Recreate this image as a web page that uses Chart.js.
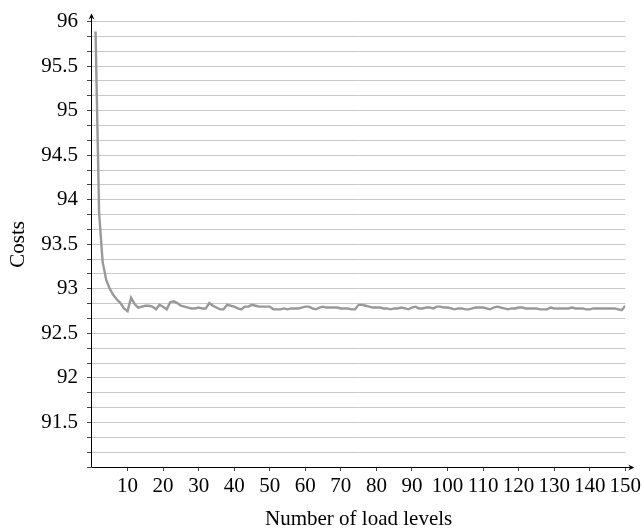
<!DOCTYPE html>
<html>
<head>
<meta charset="utf-8">
<script src="https://cdn.jsdelivr.net/npm/chart.js@4/dist/chart.umd.min.js"></script>
<style>
  html, body { margin: 0; padding: 0; background: #fff; }
  #wrap { width: 644px; height: 532px; }
</style>
</head>
<body>
<div id="wrap"><canvas id="c" width="644" height="532"></canvas></div>
<script>
// Cost per number of load levels (x = 1..150)
const loadLevels = Array.from({ length: 150 }, (_, i) => i + 1);
const costs = [
  95.89, 93.85, 93.30, 93.10, 93.00, 92.93, 92.88, 92.84, 92.78, 92.75,
  92.90, 92.83, 92.79, 92.80, 92.81, 92.81, 92.80, 92.77, 92.82, 92.80,
  92.77, 92.85, 92.86, 92.84, 92.81, 92.80, 92.79, 92.78, 92.78, 92.79,
  92.78, 92.78, 92.84, 92.81, 92.79, 92.77, 92.77, 92.82, 92.81, 92.80,
  92.78, 92.77, 92.80, 92.80, 92.82, 92.81, 92.80, 92.80, 92.80, 92.80,
  92.77, 92.77, 92.77, 92.78, 92.77, 92.78, 92.78, 92.78, 92.79, 92.80,
  92.80, 92.78, 92.77, 92.79, 92.80, 92.79, 92.79, 92.79, 92.79, 92.78,
  92.78, 92.78, 92.77, 92.77, 92.82, 92.82, 92.81, 92.80, 92.79, 92.79,
  92.79, 92.78, 92.78, 92.77, 92.78, 92.78, 92.79, 92.78, 92.77, 92.79,
  92.80, 92.78, 92.78, 92.79, 92.79, 92.78, 92.80, 92.80, 92.79, 92.79,
  92.78, 92.77, 92.78, 92.78, 92.77, 92.77, 92.78, 92.79, 92.79, 92.79,
  92.78, 92.77, 92.79, 92.80, 92.79, 92.78, 92.77, 92.78, 92.78, 92.79,
  92.79, 92.78, 92.78, 92.78, 92.78, 92.77, 92.77, 92.77, 92.79, 92.78,
  92.78, 92.78, 92.78, 92.78, 92.79, 92.78, 92.78, 92.78, 92.77, 92.77,
  92.78, 92.78, 92.78, 92.78, 92.78, 92.78, 92.78, 92.77, 92.76, 92.81
];

// Axis ticks
const xTicks = [10, 20, 30, 40, 50, 60, 70, 80, 90, 100, 110, 120, 130, 140, 150];
const yMin = 91, yMax = 96;
const yTicks = Array.from({ length: 31 }, (_, i) => yMin + i / 6);

const FONT = "'Liberation Serif', 'DejaVu Serif', serif";

// Draws the black axis lines with arrow heads (pgfplots style)
const arrowAxes = {
  id: 'arrowAxes',
  afterDraw(chart) {
    const { ctx, chartArea: a } = chart;
    ctx.save();
    ctx.strokeStyle = '#000';
    ctx.fillStyle = '#000';
    ctx.lineWidth = 1;
    ctx.beginPath();
    ctx.moveTo(a.left, a.bottom + 0.5);
    ctx.lineTo(a.right + 7, a.bottom + 0.5);
    ctx.moveTo(a.left - 0.5, a.bottom);
    ctx.lineTo(a.left - 0.5, a.top - 6);
    ctx.stroke();
    // x arrow
    ctx.beginPath();
    ctx.moveTo(a.right + 9, a.bottom + 0.5);
    ctx.lineTo(a.right + 3, a.bottom - 2.5);
    ctx.lineTo(a.right + 5, a.bottom + 0.5);
    ctx.lineTo(a.right + 3, a.bottom + 3.5);
    ctx.closePath();
    ctx.fill();
    // y arrow
    ctx.beginPath();
    ctx.moveTo(a.left - 0.5, a.top - 8);
    ctx.lineTo(a.left - 3.5, a.top - 2);
    ctx.lineTo(a.left - 0.5, a.top - 4);
    ctx.lineTo(a.left + 2.5, a.top - 2);
    ctx.closePath();
    ctx.fill();
    ctx.restore();
  }
};

const ctx = document.getElementById('c').getContext('2d');
new Chart(ctx, {
  type: 'line',
  data: {
    labels: loadLevels,
    datasets: [{
      data: loadLevels.map((x, i) => ({ x, y: costs[i] })),
      borderColor: '#999999',
      borderWidth: 2.4,
      pointRadius: 0,
      tension: 0,
      fill: false,
    }],
  },
  options: {
    responsive: false,
    animation: false,
    layout: { padding: { top: 14, right: 15, left: 0, bottom: 0 } },
    plugins: {
      legend: { display: false },
      tooltip: { enabled: false },
    },
    scales: {
      x: {
        type: 'linear',
        min: 0,
        max: 150,
        afterBuildTicks: (scale) => { scale.ticks = xTicks.map(v => ({ value: v })); },
        afterFit: (scale) => { scale.height = 65; },
        border: { display: false },
        grid: {
          drawOnChartArea: false,
          drawTicks: true,
          tickLength: 4,
          tickColor: '#444',
        },
        ticks: {
          color: '#000',
          font: { family: FONT, size: 21 },
          padding: 3,
          maxRotation: 0,
          autoSkip: false,
        },
        title: {
          display: true,
          text: 'Number of load levels',
          color: '#000',
          font: { family: FONT, size: 21 },
          padding: { top: 2, bottom: 0 },
        },
      },
      y: {
        min: yMin,
        max: yMax,
        afterBuildTicks: (scale) => { scale.ticks = yTicks.map(v => ({ value: v })); },
        afterFit: (scale) => { scale.width = 92; },
        border: { display: false },
        grid: {
          color: '#c8c8c8',
          lineWidth: 1,
          drawTicks: true,
          tickLength: 5,
          tickColor: '#444',
        },
        ticks: {
          color: '#000',
          font: { family: FONT, size: 21 },
          padding: 9,
          autoSkip: false,
          callback: (v) => {
            const twice = v * 2;
            if (Math.abs(twice - Math.round(twice)) > 1e-6 || v < yMin + 0.01) return '';
            return String(Math.round(twice) / 2);
          },
        },
        title: {
          display: true,
          text: 'Costs',
          color: '#000',
          font: { family: FONT, size: 21 },
          padding: { top: 6, bottom: 0 },
        },
      },
    },
  },
  plugins: [arrowAxes],
});
</script>
</body>
</html>
